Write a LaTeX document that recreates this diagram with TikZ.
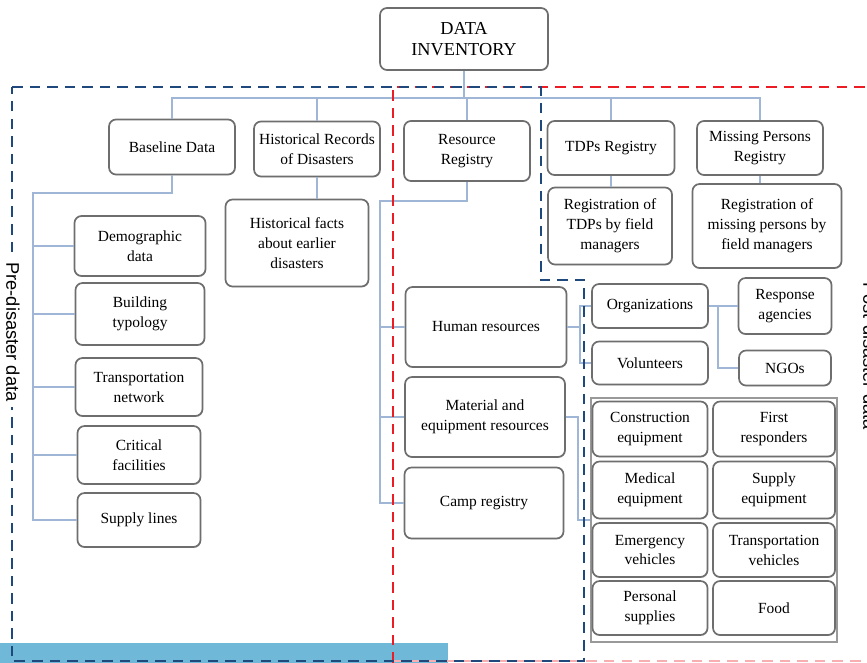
\documentclass[tikz,border=0pt]{standalone}
\usepackage{fontspec}
\setmainfont{Liberation Serif}
\setsansfont{Liberation Sans}
\usetikzlibrary{shadows}
\definecolor{linkblue}{RGB}{160,182,214}
\definecolor{preblue}{RGB}{31,73,125}
\definecolor{postred}{RGB}{236,28,36}
\definecolor{barblue}{RGB}{112,184,216}
\definecolor{boxgray}{RGB}{110,110,110}
\tikzstyle{box} = [draw=boxgray, line width=1.2pt, rounded corners=5pt, fill=white, align=center, inner sep=2pt, font=\fontsize{11}{14.2}\selectfont, drop shadow={shadow xshift=0.5pt, shadow yshift=-0.7pt, opacity=0.25}]
\tikzstyle{link} = [draw=linkblue, line width=1.1pt]
\tikzstyle{region} = [dash pattern=on 7.5pt off 5pt, line width=2.1pt]
\tikzstyle{sidelabel} = [rotate=-90, fill=white, inner sep=4pt, font=\sffamily\fontsize{13}{15}\selectfont]
\tikzset{wh/.style 2 args={minimum width=#1*0.025cm, minimum height=#2*0.025cm}}

\begin{document}
\begin{tikzpicture}[x=0.025cm, y=-0.025cm]
    \useasboundingbox (0,0) rectangle (867,663);
    \fill[barblue] (0,643) rectangle (448,663);

    % first level
    \node (inv) at (464,39) [box, wh={168}{62}, font=\fontsize{13}{14.5}\selectfont] {DATA\\INVENTORY};
    \node (base) at (172,147) [box, wh={126}{55}] {Baseline Data};
    \node (hist) at (317,149) [box, wh={126}{55}] {Historical Records\\of Disasters};
    \node (res) at (467,151) [box, wh={126}{60}] {Resource\\Registry};
    \node (tdp) at (611,148) [box, wh={127}{54}] {TDPs Registry};
    \node (miss) at (760,148) [box, wh={126}{54}] {Missing Persons\\Registry};

    \node (histf) at (297,243) [box, wh={143}{87}] {Historical facts\\about earlier\\disasters};
    \node (tdpr) at (610,226) [box, wh={124}{77}] {Registration of\\TDPs by field\\managers};
    \node (missr) at (767,226) [box, wh={149}{84}] {Registration of\\missing persons by\\field managers};

    % baseline data
    \node (demo) at (140,246) [box, wh={131}{60}] {Demographic\\data};
    \node (bldg) at (140,314) [box, wh={129}{62}] {Building\\typology};
    \node (trans) at (139,387) [box, wh={127}{58}] {Transportation\\network};
    \node (crit) at (139,455) [box, wh={123}{58}] {Critical\\facilities};
    \node (supl) at (139,520) [box, wh={123}{54}] {Supply lines};

    % resources
    \node (human) at (486,327) [box, wh={161}{80}] {Human resources};
    \node (mat) at (485,417) [box, wh={160}{80}] {Material and\\equipment resources};
    \node (camp) at (484,503) [box, wh={159}{71}] {Camp registry};

    \node (org) at (650,306) [box, wh={116}{44}] {Organizations};
    \node (vol) at (650,363) [box, wh={116}{43}] {Volunteers};
    \node (resp) at (785,306) [box, wh={93}{56}] {Response\\agencies};
    \node (ngo) at (785,368) [box, wh={92}{35}] {NGOs};

    \node (equip) at (714,520) [draw=boxgray!70, line width=1.2pt, wh={246}{244}] {};
    \node (cons) at (650,429) [box, wh={115}{55}] {Construction\\equipment};
    \node (first) at (774,429) [box, wh={122}{55}] {First\\responders};
    \node (med) at (650,490) [box, wh={115}{57}] {Medical\\equipment};
    \node (supe) at (774,490) [box, wh={122}{57}] {Supply\\equipment};
    \node (emer) at (650,550) [box, wh={115}{54}] {Emergency\\vehicles};
    \node (tveh) at (774,550) [box, wh={122}{54}] {Transportation\\vehicles};
    \node (pers) at (650,608) [box, wh={115}{54}] {Personal\\supplies};
    \node (food) at (774,608) [box, wh={122}{54}] {Food};

    % connectors
    \coordinate (bus) at (464,98);
    \draw[link] (inv.south) -- (bus);
    \draw[link] (base.north) |- (bus) -| (miss.north);
    \foreach \n in {hist,res,tdp}
        \draw[link] (\n.north) -- (\n.north |- bus);
    \draw[link] (hist.south) -- (hist.south |- histf.north);
    \draw[link] (tdp.south) -- (tdp.south |- tdpr.north);
    \draw[link] (miss.south) -- (miss.south |- missr.north);

    \coordinate (spineL) at (33,193);
    \draw[link] (base.south) |- (spineL) |- (supl.west);
    \foreach \n in {demo,bldg,trans,crit}
        \draw[link] (\n.west) -- (\n.west -| spineL);

    \coordinate (spineR) at (380,201);
    \draw[link] (res.south) |- (spineR) |- (camp.west);
    \foreach \n in {human,mat}
        \draw[link] (\n.west) -- (\n.west -| spineR);

    \coordinate (hj) at (580,327);
    \draw[link] (human.east) -- (hj) |- (org.west);
    \draw[link] (hj) |- (vol.west);
    \coordinate (oj) at (718,306);
    \draw[link] (org.east) -- (oj) |- (resp.west);
    \draw[link] (oj) |- (ngo.west);
    \coordinate (mj) at (578,417);
    \draw[link] (mat.east) -- (mj) |- (equip.west);

    % regions
    \draw[region, postred!35] (393,661) -- (880,661);
    \draw[region, postred] (393,663) -- (393,87) -- (880,87);
    \draw[region, preblue] (12,87) -- (541,87) -- (541,280) -- (584,280) -- (584,661) -- (12,661) -- cycle;

    \node (pre) at (13,332) [sidelabel] {Pre-disaster data};
    \node (post) at (870,356) [sidelabel] {Post-disaster data};
\end{tikzpicture}
\end{document}
